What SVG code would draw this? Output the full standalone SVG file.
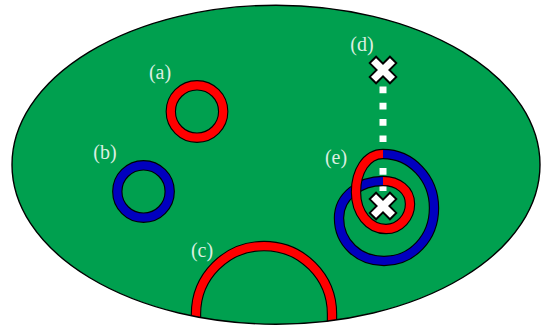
<svg xmlns="http://www.w3.org/2000/svg" width="545" height="326" viewBox="0 0 545 326">
  <style>
    .out { fill: none; stroke: #000; stroke-width: 10.4; }
    .red { fill: none; stroke: #ff0000; stroke-width: 8.2; }
    .blue { fill: none; stroke: #0000bf; stroke-width: 8.2; }
    .lbl { font-family: "Liberation Serif", "DejaVu Serif", serif; font-size: 20px; fill: #dcefe1; text-anchor: middle; }
    .x { fill: #fff; stroke: #000; stroke-width: 1.9; stroke-linejoin: miter; }
  </style>
  <defs>
    <clipPath id="clipE">
      <ellipse cx="276" cy="164.7" rx="264" ry="159.5"/>
    </clipPath>
    <polygon id="cross" points="4.5,-14.3 4.5,-4.5 14.3,-4.5 14.3,4.5 4.5,4.5 4.5,14.3 -4.5,14.3 -4.5,4.5 -14.3,4.5 -14.3,-4.5 -4.5,-4.5 -4.5,-14.3" transform="rotate(45)"/>
  </defs>

  <g id="region">
    <ellipse cx="276" cy="164.7" rx="264" ry="159.5" fill="#00a04f"/>
  </g>

  <g id="ring-a">
    <circle cx="197" cy="111.5" r="26.2" class="out"/>
    <circle cx="197" cy="111.5" r="26.2" class="red"/>
    <text x="160" y="79" class="lbl">(a)</text>
  </g>

  <g id="ring-b">
    <circle cx="143.5" cy="191.5" r="26.2" class="out"/>
    <circle cx="143.5" cy="191.5" r="26.2" class="blue"/>
    <text x="105" y="159" class="lbl">(b)</text>
  </g>

  <g id="arc-c">
    <g clip-path="url(#clipE)">
      <path d="M196,335 L196,314 A68,68 0 0 1 332,314 L332,335" class="out"/>
      <path d="M196,335 L196,314 A68,68 0 0 1 332,314 L332,335" class="red"/>
    </g>
    <text x="202" y="257" class="lbl">(c)</text>
  </g>

  <g id="connectors">
    <line x1="383" y1="86.5" x2="383" y2="200" stroke="#fff" stroke-width="7" stroke-dasharray="6.7 9.6"/>
  </g>

  <g id="spiral-e">
    <path d="M383,181 C360,181 339,196 339,218 C339,243 359,261 384,261 C412,261 434,238 434,208 C434,178 411,154 383,154" class="out"/>
    <path d="M383,181 C360,181 339,196 339,218 C339,243 359,261 384,261 C412,261 434,238 434,208 C434,178 411,154 383,154" class="blue"/>
    <path d="M383,154 C366,154 356,172 356,192 C356,213 369,229 386,229 C400,229 410,217 410,204 C410,190 398,181 383,181" class="out"/>
    <path d="M383,154 C366,154 356,172 356,192 C356,213 369,229 386,229 C400,229 410,217 410,204 C410,190 398,181 383,181" class="red"/>
    <text x="336" y="164" class="lbl">(e)</text>
  </g>

  <g id="marker-d">
    <use href="#cross" class="x" transform="translate(383,70)"/>
    <text x="362" y="51" class="lbl">(d)</text>
  </g>

  <g id="marker-e">
    <use href="#cross" class="x" transform="translate(383,206)"/>
  </g>

  <g id="region-outline">
    <ellipse cx="276" cy="164.7" rx="264" ry="159.5" fill="none" stroke="#000" stroke-width="1.4"/>
  </g>
</svg>
